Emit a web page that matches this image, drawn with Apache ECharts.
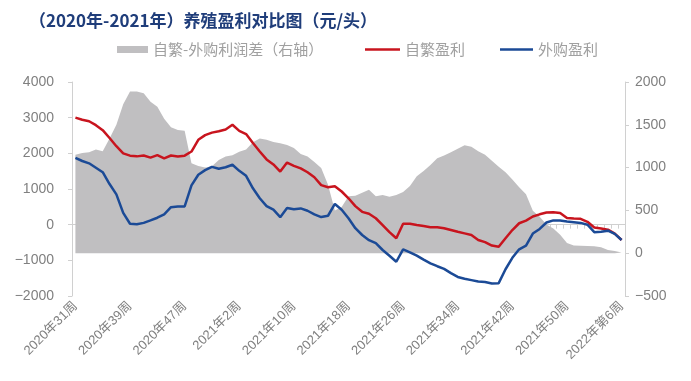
<!DOCTYPE html>
<html><head><meta charset="utf-8">
<script src="https://cdn.jsdelivr.net/npm/echarts@6/dist/echarts.min.js"></script>
<style>html,body{margin:0;padding:0;background:#fff}#c{width:691px;height:381px}</style>
</head><body><div id="c"></div><script>
const categories = [
'2020年31周','2020年32周','2020年33周','2020年34周','2020年35周','2020年36周','2020年37周','2020年38周',
'2020年39周','2020年40周','2020年41周','2020年42周','2020年43周','2020年44周','2020年45周','2020年46周',
'2020年47周','2020年48周','2020年49周','2020年50周','2020年51周','2020年52周','2020年53周','2021年1周',
'2021年2周','2021年3周','2021年4周','2021年5周','2021年6周','2021年7周','2021年8周','2021年9周',
'2021年10周','2021年11周','2021年12周','2021年13周','2021年14周','2021年15周','2021年16周','2021年17周',
'2021年18周','2021年19周','2021年20周','2021年21周','2021年22周','2021年23周','2021年24周','2021年25周',
'2021年26周','2021年27周','2021年28周','2021年29周','2021年30周','2021年31周','2021年32周','2021年33周',
'2021年34周','2021年35周','2021年36周','2021年37周','2021年38周','2021年39周','2021年40周','2021年41周',
'2021年42周','2021年43周','2021年44周','2021年45周','2021年46周','2021年47周','2021年48周','2021年49周',
'2021年50周','2021年51周','2021年52周','2022年第1周','2022年第2周','2022年第3周','2022年第4周','2022年第5周',
'2022年第6周'];

// 自繁-外购利润差（右轴）
const diffValues = [
1150,1170,1180,1210,1190,1340,1500,1740,1890,1890,1870,1770,1710,1570,1470,1440,
1430,1050,1020,1000,1015,1090,1130,1145,1185,1210,1295,1340,1325,1300,1285,1265,
1230,1160,1130,1065,995,800,500,540,665,670,705,740,665,680,660,680,
715,785,900,960,1030,1110,1140,1180,1220,1260,1245,1190,1150,1080,1010,945,
860,770,690,495,425,335,290,215,120,90,88,85,80,70,38,25,
8];

// 自繁盈利
const selfBredValues = [
3000,2940,2900,2790,2650,2430,2200,2000,1935,1915,1940,1880,1950,1860,1940,1910,
1935,2050,2380,2510,2580,2620,2670,2800,2630,2540,2290,2050,1830,1690,1490,1740,
1650,1580,1470,1330,1110,1050,1080,930,740,520,360,305,180,-10,-210,-380,
25,25,-10,-40,-70,-70,-100,-150,-200,-245,-290,-430,-490,-585,-620,-380,
-150,40,115,230,290,340,350,330,190,170,165,80,-80,-110,-140,-250,
-430];

// 外购盈利
const purchasedValues = [
1875,1785,1720,1595,1470,1140,850,330,25,10,50,120,195,290,490,510,
510,1100,1400,1530,1620,1570,1610,1680,1510,1370,1020,740,520,420,210,470,
430,455,390,290,213,250,580,420,180,-100,-290,-435,-520,-710,-870,-1040,
-690,-775,-870,-980,-1085,-1165,-1240,-1360,-1465,-1515,-1555,-1595,-1610,-1650,-1640,-1250,
-930,-690,-590,-250,-120,60,120,115,90,70,50,0,-210,-200,-170,-260,
-430];

const titleText = '（2020年-2021年）养殖盈利对比图（元/头）';
const seriesNames = ['自繁-外购利润差（右轴）', '自繁盈利', '外购盈利'];

const GRAY = '#c0bfc1', RED = '#c8141e', BLUE = '#1b4a96';
const AXIS = '#d0d0d0', LABEL = '#808080';
const numFont = '"Liberation Sans","Noto Sans CJK SC",sans-serif';
const cjkFont = '"Noto Sans CJK SC",sans-serif';
const minus = v => String(v).replace('-', '−');

const legendText = {color: '#a0a0a0', fontSize: 15, fontFamily: cjkFont};

const chart = echarts.init(document.getElementById('c'), null, {renderer: 'canvas'});
chart.setOption({
  animation: false,
  backgroundColor: '#fff',
  title: {
    text: titleText, left: 24, top: 7,
    textStyle: {fontSize: 17, fontWeight: 'bold', color: '#1f3d7a', fontFamily: cjkFont}
  },
  legend: [
    {data: [{name: seriesNames[0], icon: 'rect', itemStyle: {color: GRAY}}], left: 112, top: 37,
     itemWidth: 31, itemHeight: 7, textStyle: legendText},
    {data: [{name: seriesNames[1], icon: 'rect', itemStyle: {color: RED}}], left: 360, top: 37,
     itemWidth: 35, itemHeight: 2.5, textStyle: legendText},
    {data: [{name: seriesNames[2], icon: 'rect', itemStyle: {color: BLUE}}], left: 495, top: 37,
     itemWidth: 33, itemHeight: 2.5, textStyle: legendText}
  ],
  grid: {left: 72, right: 66, top: 82, height: 214},
  xAxis: [
    {type: 'category', data: categories, boundaryGap: true, position: 'bottom',
     axisLine: {show: false, onZero: false}, axisTick: {show: false},
     axisLabel: {interval: 7, rotate: 45, color: LABEL, fontSize: 13, margin: 8, fontFamily: numFont}},
    {type: 'category', data: categories, boundaryGap: true, position: 'bottom',
     axisLine: {show: true, onZero: true, onZeroAxisIndex: 0, lineStyle: {color: AXIS, width: 1}},
     axisTick: {show: true, interval: 0, length: 4, lineStyle: {color: AXIS}},
     axisLabel: {show: false}}
  ],
  yAxis: [
    {type: 'value', min: -2000, max: 4000, interval: 1000, position: 'left',
     axisLine: {show: true, lineStyle: {color: AXIS}},
     axisTick: {show: true, length: 4, lineStyle: {color: AXIS}},
     splitLine: {show: false},
     axisLabel: {color: LABEL, fontSize: 14, margin: 18, fontFamily: numFont, formatter: minus}},
    {type: 'value', min: -500, max: 2000, interval: 500, position: 'right',
     axisLine: {show: true, lineStyle: {color: AXIS}},
     axisTick: {show: true, length: 4, lineStyle: {color: AXIS}},
     splitLine: {show: false},
     axisLabel: {color: LABEL, fontSize: 14, margin: 10, fontFamily: numFont, formatter: minus}}
  ],
  series: [
    {name: seriesNames[0], type: 'line', xAxisIndex: 0, yAxisIndex: 1, data: diffValues,
     symbol: 'none', lineStyle: {width: 0, color: GRAY}, itemStyle: {color: GRAY},
     areaStyle: {color: GRAY, opacity: 1}, z: 1},
    {name: seriesNames[1], type: 'line', xAxisIndex: 0, yAxisIndex: 0, data: selfBredValues,
     symbol: 'none', lineStyle: {width: 2.5, color: RED}, itemStyle: {color: RED}, z: 3},
    {name: seriesNames[2], type: 'line', xAxisIndex: 0, yAxisIndex: 0, data: purchasedValues,
     symbol: 'none', lineStyle: {width: 2.5, color: BLUE}, itemStyle: {color: BLUE}, z: 4}
  ]
});
</script></body></html>
